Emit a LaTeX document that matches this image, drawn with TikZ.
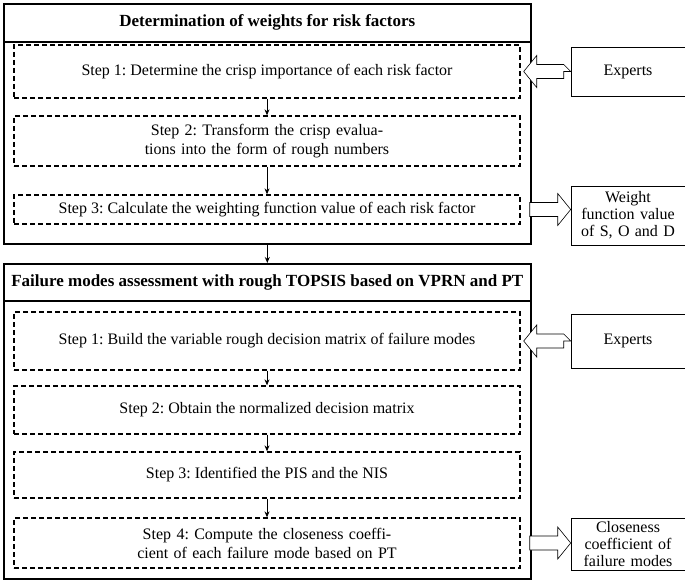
\documentclass[tikz,border=0pt]{standalone}
\usepackage{fontspec}
\usetikzlibrary{arrows.meta}
\setmainfont{Liberation Serif}
\frenchspacing
\begin{document}
\begin{tikzpicture}[x=1pt,y=-1pt,
 dbox/.style={draw,dashed,line width=1.3pt,dash pattern=on 5pt off 3pt,inner sep=2pt,align=center,font=\fontsize{16}{19}\selectfont},
 sbox/.style={draw,line width=0.6pt,align=center,font=\fontsize{16}{19}\selectfont},
 big/.style={draw,line width=1.6pt},
 hdr/.style={draw,line width=1.6pt,font=\bfseries\fontsize{17}{19}\selectfont},
 arr/.style={-{Stealth[length=6pt,width=5pt]},line width=1pt},
 hol/.style={draw,line width=0.6pt,fill=white}]
\useasboundingbox (0,0) rectangle (685,580);
% top block
\node[big,minimum width=527pt,minimum height=240pt,anchor=north west] (B1) at (3,3) {};
\node[hdr,minimum width=527pt,minimum height=38pt,anchor=north west] (H1) at (3,3) {Determination of weights for risk factors};
\node[dbox,minimum width=506pt,minimum height=53pt] (a1) at (267,71.5) {Step 1: Determine the crisp importance of each risk factor};
\node[dbox,minimum width=506pt,minimum height=50pt,text width=470pt] (a2) at (267,141) {Step 2: Transform the crisp evaluations into the form of rough numbers};
\node[dbox,minimum width=506pt,minimum height=29pt] (a3) at (267,209.5) {Step 3: Calculate the weighting function value of each risk factor};
\node[sbox,minimum width=114pt,minimum height=49pt] (e1) at (628,71.5) {Experts};
\node[sbox,minimum width=114pt,minimum height=59pt,text width=110pt,inner sep=1pt,font=\fontsize{16}{17}\selectfont] (w1) at (628,215.5) {Weight\\function value\\of S, O and D};
% bottom block
\node[big,minimum width=527pt,minimum height=315pt,anchor=north west] (B2) at (3,263) {};
\node[hdr,minimum width=527pt,minimum height=37pt,anchor=north west] (H2) at (3,263) {Failure modes assessment with rough TOPSIS based on VPRN and PT};
\node[dbox,minimum width=506pt,minimum height=58pt] (b1) at (267,341) {Step 1: Build the variable rough decision matrix of failure modes};
\node[dbox,minimum width=506pt,minimum height=48pt] (b2) at (267,410) {Step 2: Obtain the normalized decision matrix};
\node[dbox,minimum width=506pt,minimum height=46pt] (b3) at (267,475) {Step 3: Identified the PIS and the NIS};
\node[dbox,minimum width=506pt,minimum height=50pt,text width=490pt] (b4) at (267,543) {Step 4: Compute the closeness coefficient of each failure mode based on PT};
\node[sbox,minimum width=114pt,minimum height=54pt] (e2) at (628,341) {Experts};
\node[sbox,minimum width=114pt,minimum height=52pt,text width=110pt,inner sep=1pt,font=\fontsize{16}{17}\selectfont] (c2) at (628,544) {Closeness\\coefficient of\\failure modes};
% arrows
\draw[arr] (a1.south) -- (a2.north);
\draw[arr] (a2.south) -- (a3.north);
\draw[arr] (B1.south) -- (B2.north);
\draw[arr] (b1.south) -- (b2.north);
\draw[arr] (b2.south) -- (b3.north);
\draw[arr] (b3.south) -- (b4.north);
% hollow arrows
\draw[hol] (e1.west) -- ++(-7,0) -- ++(0,7) -- ++(-27,0) -- ++(0,9) -- ++(-13,-16) -- ++(13,-16) -- ++(0,9) -- ++(27,0) -- cycle;
\draw[hol] (e2.west) -- ++(-7,0) -- ++(0,7) -- ++(-27,0) -- ++(0,9) -- ++(-13,-16) -- ++(13,-16) -- ++(0,9) -- ++(27,0) -- cycle;
\coordinate (t1) at (w1.west |- a3.east);
\coordinate (t2) at (c2.west |- b4.east);
\draw[hol] (t1) -- ++(-13,-16) -- ++(0,9) -- ++(-28,0) -- ++(0,14) -- ++(28,0) -- ++(0,9) -- cycle;
\draw[hol] (t2) -- ++(-13,-16) -- ++(0,9) -- ++(-28,0) -- ++(0,14) -- ++(28,0) -- ++(0,9) -- cycle;
\end{tikzpicture}
\end{document}
